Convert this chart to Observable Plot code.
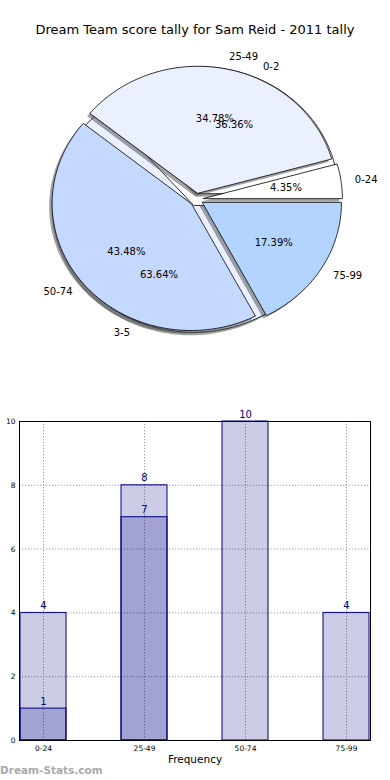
<!DOCTYPE html>
<html><head><meta charset="utf-8">
<script src="https://cdn.jsdelivr.net/npm/d3@7"></script>
<script src="https://cdn.jsdelivr.net/npm/@observablehq/plot@0.6"></script>
<style>
body{margin:0;background:#fff;font-family:"DejaVu Sans",sans-serif;}
#wrap{position:relative;width:390px;height:780px;overflow:hidden;background:#fff;}
#title{position:absolute;top:22px;left:0;width:390px;text-align:center;font-size:13px;line-height:16px;color:#000;white-space:nowrap;}
#pie{position:absolute;top:44px;left:0;}
#bar{position:absolute;top:390px;left:0;}
#wm{position:absolute;left:0;top:764px;font-size:10.5px;line-height:12px;font-weight:bold;color:#aaa;white-space:nowrap;}
svg{display:block;}
</style></head>
<body><div id="wrap">
<div id="title"></div>
<div id="pie"></div>
<div id="bar"></div>
<div id="wm"></div>
</div>
<script>
const chartTitle = "Dream Team score tally for Sam Reid - 2011 tally";
const watermark = "Dream-Stats.com";
const xLabel = "Frequency";

// Pie 1: score ranges
const pieLabels = ["0-24", "25-49", "50-74", "75-99"];
const piePcts = [4.35, 34.78, 43.48, 17.39];
const pieColors = ["#ffffff", "#eaf0ff", "#c5d8ff", "#b3d4ff"];
// Pie 2: overlaid
const pie2Labels = ["0-2", "3-5"];
const pie2Pcts = [36.36, 63.64];
const pie2Colors = ["#ffffff", "#eaf0ff"];

// Bars
const categories = ["0-24", "25-49", "50-74", "75-99"];
const freqAll = [4, 8, 10, 4];
const subCategories = ["0-24", "25-49"];
const freqSub = [1, 7];
const yTicks = [0, 2, 4, 6, 8, 10];

document.getElementById("title").textContent = chartTitle;
document.getElementById("wm").textContent = watermark;

const explode = 0.05;
function wedges(labels, pcts, colors, group) {
  const total = d3.sum(pcts);
  let a0 = 0;
  return labels.map((lab, i) => {
    const a1 = a0 + pcts[i] / total * 2 * Math.PI;
    const am = (a0 + a1) / 2;
    const cx = explode * Math.cos(am), cy = explode * Math.sin(am);
    const n = Math.max(2, Math.ceil((a1 - a0) / (Math.PI / 180)));
    const pts = [{x: cx, y: cy}];
    for (let k = 0; k <= n; k++) {
      const t = a0 + (a1 - a0) * k / n;
      pts.push({x: cx + Math.cos(t), y: cy + Math.sin(t)});
    }
    const w = {key: group + i, label: lab, pct: pcts[i], color: colors[i], am, cx, cy, pts};
    a0 = a1;
    return w;
  });
}
const w2 = wedges(pie2Labels, pie2Pcts, pie2Colors, "b");
const w1 = wedges(pieLabels, piePcts, pieColors, "a");
const allW = [...w2, ...w1];

const wedgeMarks = allW.flatMap(w => [
  Plot.line(w.pts, {x: "x", y: "y", curve: "linear-closed", fill: "#47494c", fillOpacity: 0.5, stroke: "none", dx: -3, dy: 3}),
  Plot.line(w.pts, {x: "x", y: "y", curve: "linear-closed", fill: w.color, stroke: "#000", strokeWidth: 0.8})
]);
const labelData = allW.map(w => ({
  x: w.cx + 1.1 * Math.cos(w.am), y: w.cy + 1.1 * Math.sin(w.am), text: w.label,
  px: w.cx + 0.6 * Math.cos(w.am), py: w.cy + 0.6 * Math.sin(w.am), ptext: w.pct.toFixed(2) + "%"
}));

const pie = Plot.plot({
  width: 390, height: 346, margin: 0,
  x: {domain: [-1, 1], range: [57, 335], axis: null},
  y: {domain: [-1, 1], range: [282, 28], axis: null},
  style: {fontFamily: "DejaVu Sans", fontSize: "10px", background: "transparent"},
  marks: [
    ...wedgeMarks,
    Plot.text(labelData.filter(d => d.x > 0), {x: "x", y: "y", text: "text", textAnchor: "start", fill: "#000", fontSize: 10}),
    Plot.text(labelData.filter(d => d.x <= 0), {x: "x", y: "y", text: "text", textAnchor: "end", fill: "#000", fontSize: 10}),
    Plot.text(labelData, {x: "px", y: "py", text: "ptext", textAnchor: "middle", fill: "#000", fontSize: 10})
  ]
});
document.getElementById("pie").appendChild(pie);

const allData = categories.map((c, i) => ({cat: c, v: freqAll[i]}));
const subData = subCategories.map((c, i) => ({cat: c, v: freqSub[i]}));
const navy = "#000080";

const bar = Plot.plot({
  width: 390, height: 390,
  marginLeft: 19, marginRight: 20, marginTop: 31, marginBottom: 40,
  x: {type: "band", domain: categories, paddingInner: 0.548, paddingOuter: 0},
  y: {domain: [0, 10]},
  style: {fontFamily: "DejaVu Sans", fontSize: "7.5px", background: "transparent", color: "#000"},
  marks: [
    Plot.gridY(yTicks, {stroke: "#999", strokeOpacity: 1, strokeDasharray: "1.2,1.8"}),
    Plot.gridX(categories, {stroke: "#999", strokeOpacity: 1, strokeDasharray: "1.2,1.8"}),
    Plot.barY(allData, {x: "cat", y: "v", fill: navy, fillOpacity: 0.2, stroke: navy, strokeWidth: 1}),
    Plot.barY(subData, {x: "cat", y: "v", fill: navy, fillOpacity: 0.2, stroke: navy, strokeWidth: 1}),
    Plot.text(allData, {x: "cat", y: "v", text: d => String(d.v), lineAnchor: "bottom", dy: -4, fill: navy, fontSize: 10}),
    Plot.text(subData, {x: "cat", y: "v", text: d => String(d.v), lineAnchor: "bottom", dy: -4, fill: navy, fontSize: 10}),
    Plot.frame({stroke: "#000", strokeWidth: 1}),
    Plot.axisY({ticks: yTicks, tickSize: 0, tickPadding: 4, label: null, fontSize: 7.5}),
    Plot.axisX({tickSize: 0, tickPadding: 5, label: null, fontSize: 7.5}),
    Plot.text([xLabel], {frameAnchor: "bottom", dy: 22, fontSize: 10.5, fill: "#000"})
  ]
});
document.getElementById("bar").appendChild(bar);
</script>
</body></html>
